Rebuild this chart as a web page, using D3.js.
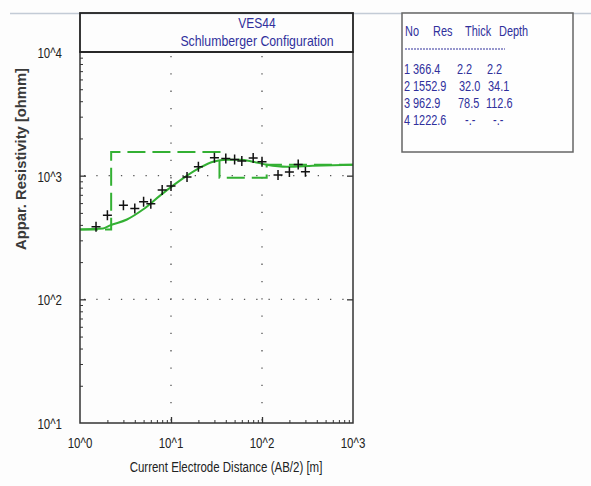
<!DOCTYPE html>
<html>
<head>
<meta charset="utf-8">
<script src="https://cdn.jsdelivr.net/npm/d3@7/dist/d3.min.js"></script>
<style>
  html, body { margin: 0; padding: 0; background: #fdfdfd; }
  svg { display: block; }
  text { font-family: "Liberation Sans", Arial, sans-serif; }
</style>
</head>
<body>
<svg id="chart" width="591" height="486"></svg>
<script>
// Field sounding VES44: AB/2 spacing [m] and measured apparent resistivity [ohm m]
const abHalf = [1.5, 2, 3, 4, 5, 6, 8, 10, 15, 20, 30, 40, 50, 60, 80, 100, 150, 200, 250, 300];
const rhoMeasured = [386, 478, 576, 542, 614, 594, 767, 826, 976, 1182, 1397, 1379, 1353, 1314, 1389, 1297, 1013, 1071, 1233, 1077];

// Computed model response (solid curve)
const curveAB = [1, 1.79, 2.14, 3.28, 4.92, 7.57, 10.5, 15.0, 20.8, 29.0, 41.2, 57.3, 79.6, 113, 188, 363, 1000];
const curveRho = [367, 374, 396, 442, 532, 690, 830, 1000, 1160, 1297, 1346, 1346, 1297, 1227, 1182, 1204, 1227];

// Layered model
const layerNo = [1, 2, 3, 4];
const layerRes = [366.4, 1552.9, 962.9, 1222.6];
const layerThick = [2.2, 32.0, 78.5];
const layerDepth = [2.2, 34.1, 112.6];

const xTickLabels = ["10^0", "10^1", "10^2", "10^3"];
const yTickLabels = ["10^1", "10^2", "10^3", "10^4"];
const xMajor = [1, 10, 100, 1000];
const yMajor = [10, 100, 1000, 10000];

const svg = d3.select("#chart");
const L = 80, R = 353, T = 52, B = 423;
const x = d3.scaleLog().domain([1, 1000]).range([L, R]);
const y = d3.scaleLog().domain([10, 10000]).range([B, T]);

const green = "#33b033";
const ink = "#30309c";

// narrow the glyphs of a text to a fraction of their natural width
function squeeze(sel, k) {
  sel.each(function () {
    const w = this.getComputedTextLength();
    d3.select(this).attr("textLength", w * k).attr("lengthAdjust", "spacingAndGlyphs");
  });
  return sel;
}

// thin rule along the top of the page
svg.append("line").attr("x1", 10).attr("x2", 591).attr("y1", 13.5).attr("y2", 13.5)
  .attr("stroke", "#c3cbd6").attr("stroke-width", 1.5);

// dotted grid at the inner decades
const g = svg.append("g");
g.selectAll(".vg").data(xMajor.slice(1, 3)).join("line")
  .attr("x1", d => x(d)).attr("x2", d => x(d)).attr("y1", T + 4).attr("y2", B)
  .attr("stroke", "#555").attr("stroke-width", 1.3).attr("stroke-dasharray", "1.3,16");
g.selectAll(".hg").data(yMajor.slice(1, 3)).join("line")
  .attr("x1", L + 4).attr("x2", R).attr("y1", d => y(d)).attr("y2", d => y(d))
  .attr("stroke", "#555").attr("stroke-width", 1.3).attr("stroke-dasharray", "1.3,11");

// axes with inward ticks
const minorX = d3.range(0, 3).flatMap(k => d3.range(2, 10).map(m => m * Math.pow(10, k)));
const minorY = d3.range(1, 4).flatMap(k => d3.range(2, 10).map(m => m * Math.pow(10, k)));
svg.append("g").attr("transform", `translate(0,${B})`)
  .call(d3.axisBottom(x).tickValues(minorX).tickSize(-3).tickFormat(""))
  .call(a => a.select(".domain").remove())
  .selectAll("line").attr("stroke", "#333");
svg.append("g").attr("transform", `translate(0,${B})`)
  .call(d3.axisBottom(x).tickValues(xMajor.slice(1, 3)).tickSize(-6).tickFormat(""))
  .call(a => a.select(".domain").remove())
  .selectAll("line").attr("stroke", "#333").attr("stroke-width", 1.3);
svg.append("g").attr("transform", `translate(${L},0)`)
  .call(d3.axisLeft(y).tickValues(minorY).tickSize(-3).tickFormat(""))
  .call(a => a.select(".domain").remove())
  .selectAll("line").attr("stroke", "#333");
svg.append("g").attr("transform", `translate(${L},0)`)
  .call(d3.axisLeft(y).tickValues(yMajor.slice(1, 3)).tickSize(-6).tickFormat(""))
  .call(a => a.select(".domain").remove())
  .selectAll("line").attr("stroke", "#333").attr("stroke-width", 1.3);
svg.append("g").attr("transform", `translate(${R},0)`)
  .call(d3.axisRight(y).tickValues(yMajor.slice(1, 3)).tickSize(-6).tickFormat(""))
  .call(a => a.select(".domain").remove())
  .selectAll("line").attr("stroke", "#333").attr("stroke-width", 1.3);

// tick labels
squeeze(svg.selectAll(".xl").data(xMajor).join("text")
  .attr("x", d => x(d)).attr("y", B + 25).attr("text-anchor", "middle")
  .attr("font-size", 14).attr("fill", "#222").text((d, i) => xTickLabels[i]), 0.82);
squeeze(svg.selectAll(".yl").data(yMajor).join("text")
  .attr("x", 62).attr("y", d => y(d) + 6).attr("text-anchor", "end")
  .attr("font-size", 14).attr("fill", "#222").text((d, i) => yTickLabels[i]), 0.82);

// axis titles
squeeze(svg.append("text").attr("x", 226).attr("y", 472).attr("text-anchor", "middle")
  .attr("font-size", 14).attr("fill", "#222").text("Current Electrode Distance (AB/2) [m]"), 0.82);
svg.append("text").attr("transform", "translate(26,159) rotate(-90)").attr("text-anchor", "middle")
  .attr("font-size", 15).attr("font-weight", "bold").attr("fill", "#3a3a3a")
  .attr("textLength", 182).attr("lengthAdjust", "spacingAndGlyphs")
  .text("Appar. Resistivity [ohmm]");

// layered model as a dashed step line
const steps = [];
layerRes.forEach((r, i) => {
  const top = i === 0 ? 1 : layerDepth[i - 1];
  const bot = i < layerDepth.length ? layerDepth[i] : 1000;
  steps.push([top, r], [bot, r]);
});
svg.append("path").datum(steps)
  .attr("d", d3.line().x(d => x(d[0])).y(d => y(d[1])))
  .attr("fill", "none").attr("stroke", green).attr("stroke-width", 2)
  .attr("stroke-dasharray", "18,7");

// model response
svg.append("path").datum(curveAB.map((a, i) => [a, curveRho[i]]))
  .attr("d", d3.line().x(d => x(d[0])).y(d => y(d[1])).curve(d3.curveMonotoneX))
  .attr("fill", "none").attr("stroke", green).attr("stroke-width", 2);

// measured points
svg.selectAll(".pt").data(abHalf).join("path")
  .attr("transform", (d, i) => `translate(${x(d)},${y(rhoMeasured[i])})`)
  .attr("d", "M-4.5,0H4.5M0,-5V5").attr("stroke", "#111").attr("stroke-width", 1.5);

// plot frame and title box
svg.append("rect").attr("x", L).attr("y", T).attr("width", R - L).attr("height", B - T)
  .attr("fill", "none").attr("stroke", "#333").attr("stroke-width", 1.5);
svg.append("rect").attr("x", L).attr("y", 13).attr("width", R - L).attr("height", T - 13)
  .attr("fill", "none").attr("stroke", "#222").attr("stroke-width", 1.8);
squeeze(svg.append("text").attr("x", 257).attr("y", 28).attr("text-anchor", "middle")
  .attr("font-size", 15).attr("fill", ink).text("VES44"), 0.8);
squeeze(svg.append("text").attr("x", 257).attr("y", 46).attr("text-anchor", "middle")
  .attr("font-size", 15).attr("fill", ink).text("Schlumberger Configuration"), 0.82);

// layer table; cells are drawn in a horizontally compressed face
svg.append("rect").attr("x", 402).attr("y", 13).attr("width", 171).attr("height", 139)
  .attr("fill", "#fefefe").attr("stroke", "#666").attr("stroke-width", 1.5);
const tbl = svg.append("g").attr("font-size", 14).attr("fill", ink);
const k = 0.78;
const cell = (t, px, py) => squeeze(tbl.append("text").attr("x", px).attr("y", py).text(t), k);
const hdr = [["No", 405], ["Res", 433], ["Thick", 465], ["Depth", 499]];
hdr.forEach(([t, px]) => cell(t, px, 36));
tbl.append("line").attr("x1", 405).attr("x2", 505).attr("y1", 49).attr("y2", 49)
  .attr("stroke", ink).attr("stroke-width", 1).attr("stroke-dasharray", "2,1");
const rowY = [74, 91, 108, 125];
const thickX = [457, 459, 458, 465];
const depthX = [487, 488, 486, 493];
layerNo.forEach((n, i) => {
  cell(n, 404, rowY[i]);
  cell(layerRes[i].toFixed(1), 413, rowY[i]);
  cell(i < layerThick.length ? layerThick[i].toFixed(1) : "-.-", thickX[i], rowY[i]);
  cell(i < layerDepth.length ? layerDepth[i].toFixed(1) : "-.-", depthX[i], rowY[i]);
});
</script>
</body>
</html>
